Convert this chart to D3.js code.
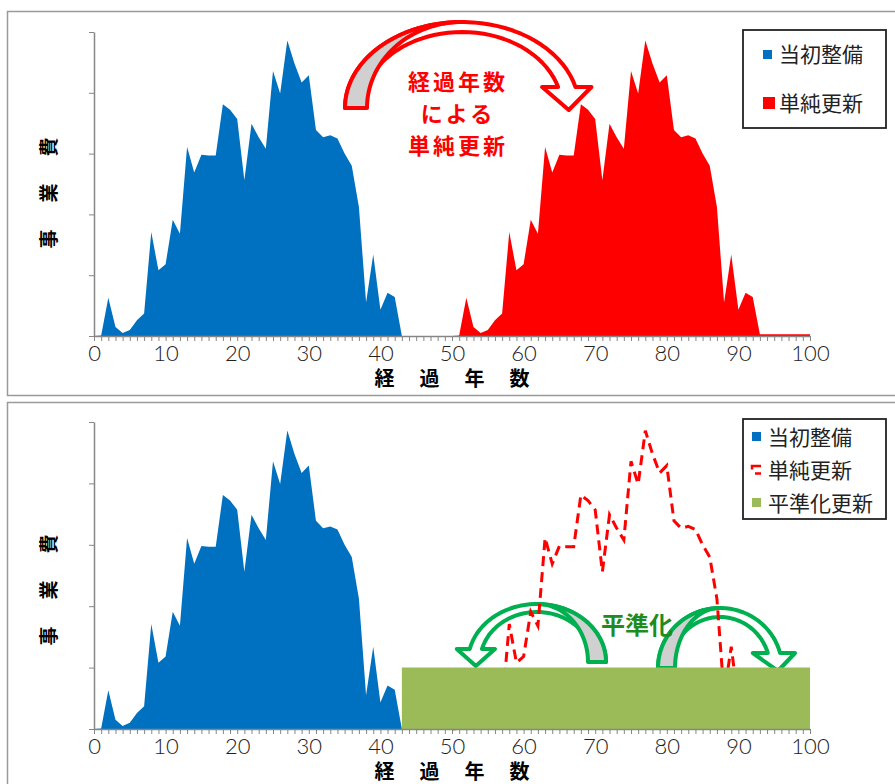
<!DOCTYPE html>
<html>
<head>
<meta charset="utf-8">
<script src="https://cdn.jsdelivr.net/npm/d3@7"></script>
<style>
body { margin: 0; background: #fff; }
svg { display: block; }
</style>
</head>
<body>
<div id="chart"></div>
<script>
// 当初整備 (経過年数 0-43)
var initYears = [0,1,2,3,4,5,6,7,8,9,10,11,12,13,14,15,16,17,18,19,20,21,22,23,24,25,26,27,28,29,30,31,32,33,34,35,36,37,38,39,40,41,42,43]
var initValues = [0,0.01,0.63,0.15,0.05,0.10,0.26,0.37,1.71,1.08,1.18,1.91,1.68,3.11,2.69,2.98,2.97,2.97,3.81,3.72,3.57,2.56,3.49,3.27,3.08,4.36,3.99,4.86,4.48,4.17,4.29,3.39,3.27,3.30,3.25,3.00,2.80,2.12,0.55,1.34,0.43,0.71,0.64,0]
// 単純更新 (経過年数 50-100)
var renewYears = [50,51,52,53,54,55,56,57,58,59,60,61,62,63,64,65,66,67,68,69,70,71,72,73,74,75,76,77,78,79,80,81,82,83,84,85,86,87,88,89,90,91,92,93,94,95,96,97,98,99,100]
var renewValues = [0,0.01,0.63,0.15,0.05,0.10,0.26,0.37,1.71,1.08,1.18,1.91,1.68,3.11,2.69,2.98,2.97,2.97,3.81,3.72,3.57,2.56,3.49,3.27,3.08,4.36,3.99,4.86,4.48,4.17,4.29,3.39,3.27,3.30,3.25,3.00,2.80,2.12,0.55,1.34,0.43,0.71,0.64,0.03,0.03,0.03,0.03,0.03,0.03,0.03,0.03]
// 平準化更新
var levelYears = [43, 100]
var levelValues = [1, 1]

var xTickLabels = [0,10,20,30,40,50,60,70,80,90,100]
var yTicks = [0,1,2,3,4,5]

var W = 895, H = 784
var BLUE = '#0070C0', RED = '#FF0000', GREEN_FILL = '#9BBB59', GREEN_LINE = '#00B050', GRAY = '#868686'

var svg = d3.select('#chart').append('svg').attr('width', W).attr('height', H)

// panel frames
svg.append('rect').attr('x', 7.5).attr('y', 11.5).attr('width', 900).attr('height', 384)
    .attr('fill', 'none').attr('stroke', '#9a9a9a').attr('stroke-width', 1.5)
svg.append('rect').attr('x', 7.5).attr('y', 402.5).attr('width', 900).attr('height', 400)
    .attr('fill', 'none').attr('stroke', '#9a9a9a').attr('stroke-width', 1.5)

var x = d3.scaleLinear().domain([0, 100]).range([94, 810])

function ellPts(cx, cy, rx, ry, a0, a1, dir) {
    var pts = []
    var n = 40
    for (var i = 0; i <= n; i++) {
        var a = (a0 + (a1 - a0) * i / n) * Math.PI / 180
        pts.push([cx + dir * rx * Math.cos(a), cy - ry * Math.sin(a)])
    }
    return pts
}

function curvedArrow(g, o) {
    var dir = o.dir
    var aO = Math.asin((o.cy - o.headY) / o.ryO) * 180 / Math.PI
    var aI = Math.asin((o.cy - o.headY) / o.ryI) * 180 / Math.PI
    var outer = ellPts(o.cx, o.cy, o.rxO, o.ryO, 180, aO, dir)
    var inner = ellPts(o.cx, o.cy, o.rxI, o.ryI, aI, 180, dir)
    var oe = outer[outer.length - 1], ie = inner[0]
    var mid = (oe[0] + ie[0]) / 2 + dir * (o.tipShift || 0)
    var head = [[oe[0] + dir * o.ext, o.headY], [mid, o.tipY], [ie[0] - dir * o.ext, o.headY]]
    var front = outer.concat(head, inner)
    var back = ellPts(o.cx, o.cy, o.rxO, o.ryO, 180, 90, dir)
        .concat(ellPts(o.cx, o.cy, o.rx3, o.ryO, 90, 180, dir))
    var line = d3.line()
    g.append('path').attr('d', line(front) + 'Z')
        .attr('fill', '#fff').attr('stroke', o.color).attr('stroke-width', 4).attr('stroke-linejoin', 'round')
    g.append('path').attr('d', line(back) + 'Z')
        .attr('fill', '#d0d0d0').attr('stroke', o.color).attr('stroke-width', 4).attr('stroke-linejoin', 'round')
}

function drawAxes(g, y, yTitleY) {
    var base = y(0)
    // x axis minor ticks every year
    g.append('g').attr('transform', 'translate(0,' + base + ')')
        .call(d3.axisBottom(x).tickValues(d3.range(0, 101)).tickSize(5).tickFormat('').tickSizeOuter(0))
        .call(function(a) {
            a.selectAll('line').attr('stroke', GRAY)
            a.select('.domain').attr('stroke', GRAY).attr('stroke-width', 1.5)
        })
    g.append('g').attr('transform', 'translate(0,' + base + ')')
        .call(d3.axisBottom(x).tickValues(xTickLabels).tickSize(0).tickPadding(9).tickFormat(d3.format('d')))
        .call(function(a) {
            a.select('.domain').remove()
            a.selectAll('text').attr('font-family', 'Lato, "DejaVu Sans", sans-serif').attr('font-weight', 300)
                .attr('font-size', 22).attr('fill', '#222')
        })
    g.append('g').attr('transform', 'translate(' + x(0) + ',0)')
        .call(d3.axisLeft(y).tickValues(yTicks).tickSize(5).tickFormat('').tickSizeOuter(0))
        .call(function(a) {
            a.selectAll('line').attr('stroke', GRAY)
            a.select('.domain').attr('stroke', GRAY).attr('stroke-width', 1.5)
        })
    // x title
    var xt = ['経', '過', '年', '数']
    g.selectAll('.xt').data(xt).enter().append('text')
        .attr('x', (d, i) => x(50) + (i - 1.5) * 45)
        .attr('y', base + 50)
        .attr('text-anchor', 'middle')
        .attr('font-family', '"Noto Sans CJK JP", sans-serif').attr('font-weight', 700).attr('font-size', 20)
        .text(d => d)
    // y title
    var yt = ['事', '業', '費']
    var yg = g.append('g').attr('transform', 'translate(56,' + yTitleY + ') rotate(-90)')
    yg.selectAll('text').data(yt).enter().append('text')
        .attr('x', (d, i) => (i - 1) * 46)
        .attr('y', 0)
        .attr('text-anchor', 'middle')
        .attr('font-family', '"Noto Sans CJK JP", sans-serif').attr('font-weight', 700).attr('font-size', 19)
        .text(d => d)
}

var jp = '"Noto Sans CJK JP", sans-serif'

// ---------- top panel ----------
var y1 = d3.scaleLinear().domain([0, 5]).range([336, 32])
var topG = svg.append('g')
var area1 = d3.area().x(d => x(d[0])).y0(y1(0)).y1(d => y1(d[1]))
topG.append('path').attr('d', area1(d3.zip(initYears, initValues))).attr('fill', BLUE)
topG.append('path').attr('d', area1(d3.zip(renewYears, renewValues))).attr('fill', RED)
drawAxes(topG, y1, 193)

curvedArrow(topG, {dir: 1, cx: 462, cy: 108, rxO: 117, ryO: 86, rxI: 100, ryI: 76, rx3: 95,
    headY: 87, ext: 16, tipY: 110, tipShift: 2, color: RED})
var lines1 = ['経過年数', 'による', '単純更新']
topG.selectAll('.ann').data(lines1).enter().append('text')
    .attr('x', 458).attr('y', (d, i) => 90 + i * 32)
    .attr('text-anchor', 'middle')
    .attr('font-family', jp).attr('font-weight', 700).attr('font-size', 22)
    .attr('letter-spacing', 3).attr('fill', RED)
    .text(d => d)

// legend top
var lg1 = topG.append('g')
lg1.append('rect').attr('x', 743).attr('y', 30).attr('width', 143).attr('height', 98)
    .attr('fill', '#fff').attr('stroke', '#222').attr('stroke-width', 1.8)
lg1.append('rect').attr('x', 763).attr('y', 50).attr('width', 9).attr('height', 9).attr('fill', BLUE)
lg1.append('rect').attr('x', 763).attr('y', 97).attr('width', 12).attr('height', 12).attr('fill', RED)
lg1.append('text').attr('x', 779).attr('y', 62).attr('font-family', jp).attr('font-size', 21).attr('fill', '#222').text('当初整備')
lg1.append('text').attr('x', 779).attr('y', 111).attr('font-family', jp).attr('font-size', 21).attr('fill', '#222').text('単純更新')

// ---------- bottom panel ----------
var y2 = d3.scaleLinear().domain([0, 5]).range([729, 422])
var botG = svg.append('g')
var area2 = d3.area().x(d => x(d[0])).y0(y2(0)).y1(d => y2(d[1]))
curvedArrow(botG, {dir: -1, cx: 537, cy: 662, rxO: 69, ryO: 58, rxI: 57, ryI: 50, rx3: 51,
    headY: 649, ext: 13, tipY: 666, tipShift: 0, color: GREEN_LINE})
curvedArrow(botG, {dir: 1, cx: 720, cy: 668, rxO: 62, ryO: 60, rxI: 50, ryI: 51, rx3: 45,
    headY: 653, ext: 15, tipY: 671, tipShift: 4, color: GREEN_LINE})
botG.append('path').attr('d', d3.line().x(d => x(d[0])).y(d => y2(d[1]))(d3.zip(renewYears, renewValues)))
    .attr('fill', 'none').attr('stroke', RED).attr('stroke-width', 3).attr('stroke-dasharray', '10,6')
botG.append('path').attr('d', area2(d3.zip(levelYears, levelValues))).attr('fill', GREEN_FILL)
botG.append('path').attr('d', area2(d3.zip(initYears, initValues))).attr('fill', BLUE)
drawAxes(botG, y2, 590)

botG.append('text').attr('x', 637).attr('y', 634).attr('text-anchor', 'middle')
    .attr('font-family', jp).attr('font-weight', 700).attr('font-size', 24).attr('fill', '#1E8C1E')
    .text('平準化')

// legend bottom
var lg2 = botG.append('g')
lg2.append('rect').attr('x', 743).attr('y', 419).attr('width', 143).attr('height', 100)
    .attr('fill', '#fff').attr('stroke', '#222').attr('stroke-width', 1.8)
lg2.append('rect').attr('x', 752).attr('y', 432).attr('width', 9).attr('height', 9).attr('fill', BLUE)
lg2.append('path').attr('d', 'M761,466 H752 V469.5 M755,473.5 H761')
    .attr('fill', 'none').attr('stroke', RED).attr('stroke-width', 2.5)
lg2.append('rect').attr('x', 752).attr('y', 498).attr('width', 9).attr('height', 9).attr('fill', GREEN_FILL)
var legend2 = ['当初整備', '単純更新', '平準化更新']
lg2.selectAll('.lt').data(legend2).enter().append('text')
    .attr('x', 768).attr('y', (d, i) => 445 + i * 33)
    .attr('font-family', jp).attr('font-size', 21).attr('fill', '#222')
    .text(d => d)
</script>
</body>
</html>
